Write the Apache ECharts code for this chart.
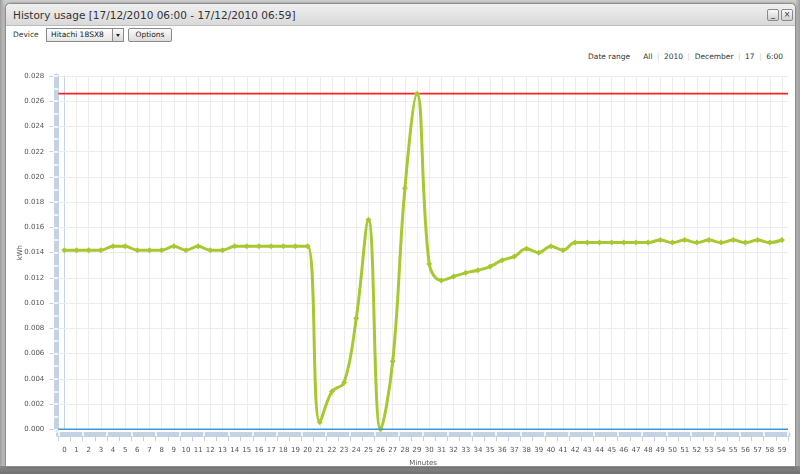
<!DOCTYPE html>
<html>
<head>
<meta charset="utf-8">
<script src="https://cdn.jsdelivr.net/npm/echarts@6/dist/echarts.min.js"></script>
<style>
  html, body { margin:0; padding:0; }
  body { width:800px; height:474px; position:relative; overflow:hidden;
         background: linear-gradient(to right, #9c9c9c 0px, #cfcfcf 5px, #cfcfcf 795px, #9c9c9c 800px);
         font-family: "DejaVu Sans", Verdana, sans-serif; }
  #bottomShade { position:absolute; left:0; top:466px; width:800px; height:8px; background:linear-gradient(#8a8a8a,#707070); }
  #win { position:absolute; left:5px; top:3px; width:789px; height:462px; background:#fff;
         border:1px solid #8e8e8e; border-radius:5px 5px 0 0; box-shadow:0 0 3px rgba(0,0,0,0.35); }
  #titlebar { position:absolute; left:0; top:0; width:789px; height:21px; border-radius:5px 5px 0 0;
              background:linear-gradient(#f0f0f0,#d9d9d9); border-bottom:1px solid #bdbdbd; }
  #title { position:absolute; left:7px; top:0; line-height:22px; font-size:10.5px; color:#333; white-space:nowrap; }
  .wbtn { position:absolute; top:5px; width:10px; height:10px; border:1px solid #8a8a8a; border-radius:2px;
          background:linear-gradient(#fafafa,#d0d0d0); font-size:8px; line-height:10px; text-align:center; color:#333; }
  .txt { position:absolute; font-size:7.5px; color:#333; white-space:nowrap; }
  #sel { position:absolute; left:46px; top:28px; width:76px; height:12px; border:1px solid #8a8a8a; background:linear-gradient(#fff,#e6e6e6); }
  #selText { position:absolute; left:4px; top:0; line-height:12px; font-size:7.5px; color:#222; }
  #selArrow { position:absolute; left:65px; top:0; width:10px; height:12px; border-left:1px solid #8a8a8a; background:linear-gradient(#fafafa,#d6d6d6); }
  #selArrow:after { content:""; position:absolute; left:3px; top:5px; border-left:2px solid transparent; border-right:2px solid transparent; border-top:3px solid #222; }
  #opt { position:absolute; left:128px; top:28px; width:42px; height:12px; border:1px solid #8a8a8a; border-radius:2px;
         background:linear-gradient(#fafafa,#dcdcdc); font-size:7.5px; line-height:12px; text-align:center; color:#222; }
  #dr { position:absolute; right:17px; top:52px; font-size:7.5px; color:#333; white-space:nowrap; line-height:10px; }
  #dr .sep { color:#ccc; margin:0 4.5px; }
  #chart { position:absolute; left:0; top:0; width:800px; height:474px; }
</style>
</head>
<body>
<div id="bottomShade"></div>
<div id="win">
  <div id="titlebar">
    <div id="title">History usage [17/12/2010 06:00 - 17/12/2010 06:59]</div>
    <div class="wbtn" style="left:761px;">_</div>
    <div class="wbtn" style="left:775px;">&#215;</div>
  </div>
</div>
<div class="txt" style="left:13px; top:30px;">Device</div>
<div id="sel"><div id="selText">Hitachi 18SX8</div><div id="selArrow"></div></div>
<div id="opt">Options</div>
<div id="dr">Date range<span style="display:inline-block;width:13px"></span>All<span class="sep">|</span>2010<span class="sep">|</span>December<span class="sep">|</span>17<span class="sep">|</span>6:00</div>
<div id="chart"></div>
<script>
// ---- data ----
const minutes = ['0','1','2','3','4','5','6','7','8','9','10','11','12','13','14','15','16','17','18','19',
  '20','21','22','23','24','25','26','27','28','29','30','31','32','33','34','35','36','37','38','39',
  '40','41','42','43','44','45','46','47','48','49','50','51','52','53','54','55','56','57','58','59'];
const usage = [
  0.0142, 0.0142, 0.0142, 0.0142, 0.0145, 0.0145, 0.0142, 0.0142, 0.0142, 0.0145,
  0.0142, 0.0145, 0.0142, 0.0142, 0.0145, 0.0145, 0.0145, 0.0145, 0.0145, 0.0145,
  0.0145, 0.00055, 0.0030, 0.0037, 0.0088, 0.0166, 0.0000, 0.0054, 0.0191, 0.0266,
  0.0131, 0.0118, 0.0121, 0.0124, 0.0126, 0.0129, 0.0134, 0.0137, 0.0143, 0.0140,
  0.0145, 0.0142, 0.0148, 0.0148, 0.0148, 0.0148, 0.0148, 0.0148, 0.0148, 0.0150,
  0.0148, 0.0150, 0.0148, 0.0150, 0.0148, 0.0150, 0.0148, 0.0150, 0.0148, 0.0150
];
const upperLimit = 0.0266;
const lowerLimit = 0.0;
const yMin = 0, yMax = 0.028, yStep = 0.002, yMinorStep = 0.001;
const xName = 'Minutes';
const yName = 'kWh';

// ---- chart ----
const FONT = 'DejaVu Sans';
const BAND = '#c3d3e3';
const TICK = '#c3d3e3';
const LABEL = '#555';
const GRIDC = '#ececec';
const xLo = -0.5, xHi = minutes.length - 0.5;   // full category band extent
const chart = echarts.init(document.getElementById('chart'), null, {renderer:'canvas'});
const G0 = {left:58.3, right:12, top:76, bottom:44.7};
const half = (800 - G0.left - G0.right) / minutes.length / 2;
chart.setOption({
  backgroundColor: 'transparent',
  animation: false,
  textStyle: {fontFamily: FONT},
  grid: [
    G0,
    {left: G0.left + half, right: G0.right + half, top: G0.top, bottom: G0.bottom}
  ],
  xAxis: [
    { type:'category', gridIndex:0, data:minutes, position:'bottom', offset:4.5, z:1,
      axisLine:{show:true, onZero:false, lineStyle:{color:BAND, width:5}}, axisTick:{show:false}, axisLabel:{show:false}, splitLine:{show:false} },
    { type:'category', gridIndex:0, data:minutes, position:'bottom', offset:7, z:2,
      axisLine:{show:false, onZero:false}, axisTick:{show:true, inside:true, length:5, lineStyle:{color:'#fff', width:1.5}}, axisLabel:{show:false}, splitLine:{show:false} },
    { type:'category', gridIndex:0, data:minutes, position:'bottom', offset:7, z:2,
      axisLine:{show:false, onZero:false}, axisTick:{show:true, length:5, lineStyle:{color:TICK, width:1}},
      axisLabel:{show:true, interval:0, fontSize:7, color:LABEL, margin:10.5, fontFamily:FONT},
      splitLine:{show:false},
      name:xName, nameLocation:'middle', nameGap:23, nameMoveOverlap:false, nameTextStyle:{fontSize:7, color:LABEL, fontFamily:FONT} },
    { type:'value', gridIndex:1, min:0, max:minutes.length - 1, interval:1,
      axisLine:{show:false, onZero:false}, axisTick:{show:false}, axisLabel:{show:false},
      splitLine:{show:true, lineStyle:{color:GRIDC, width:1}} },
    { type:'value', gridIndex:0, min:xLo, max:xHi, show:false, axisLine:{onZero:false} }
  ],
  yAxis: [
    { type:'value', gridIndex:0, min:yMin, max:yMax, interval:yStep, position:'left', offset:2.5, z:1,
      axisLine:{show:true, onZero:false, lineStyle:{color:BAND, width:5}}, axisTick:{show:false}, axisLabel:{show:false},
      splitLine:{show:true, lineStyle:{color:GRIDC, width:1}} },
    { type:'value', gridIndex:0, min:yMin, max:yMax, interval:yMinorStep, position:'left', offset:5, z:2,
      axisLine:{show:false, onZero:false}, axisTick:{show:true, inside:true, length:5, lineStyle:{color:'#fff', width:1.5}},
      axisLabel:{show:false}, splitLine:{show:false} },
    { type:'value', gridIndex:0, min:yMin, max:yMax, interval:yStep, position:'left', offset:5, z:2,
      axisLine:{show:false, onZero:false}, axisTick:{show:true, length:4, lineStyle:{color:TICK, width:1}},
      axisLabel:{show:true, fontSize:7, color:LABEL, margin:9, fontFamily:FONT, formatter:v => v.toFixed(3)},
      splitLine:{show:false},
      name:yName, nameLocation:'middle', nameGap:30, nameMoveOverlap:false, nameTextStyle:{fontSize:7, color:LABEL, fontFamily:FONT} },
    { type:'value', gridIndex:1, min:yMin, max:yMax, position:'left',
      axisLine:{show:true, onZero:false, lineStyle:{color:'#c5d5e5', width:1}}, axisTick:{show:false}, axisLabel:{show:false}, splitLine:{show:false} }
  ],
  series: [
    { type:'line', name:'upper', xAxisIndex:4, yAxisIndex:0, z:2, silent:true,
      data:[[xLo, upperLimit], [xHi, upperLimit]], symbol:'none',
      lineStyle:{color:'#f22', width:1.6} },
    { type:'line', name:'usage', xAxisIndex:0, yAxisIndex:0, data:usage, smooth:0.4, z:3,
      symbol:'diamond', symbolSize:6, showSymbol:true,
      lineStyle:{color:'#a8c832', width:3}, itemStyle:{color:'#a8c832'} },
    { type:'line', name:'lower', xAxisIndex:4, yAxisIndex:0, z:4, silent:true,
      data:[[xLo, lowerLimit], [xHi, lowerLimit]], symbol:'none',
      lineStyle:{color:'#3a97e0', width:1.6} }
  ]
});
</script>
</body>
</html>
